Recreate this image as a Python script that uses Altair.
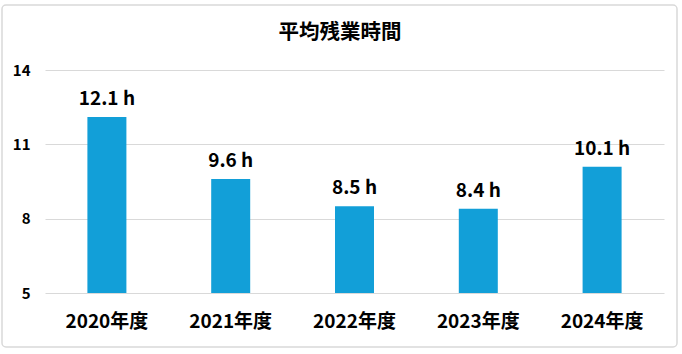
import altair as alt
import pandas as pd

categories = ["2020年度", "2021年度", "2022年度", "2023年度", "2024年度"]
values = [12.1, 9.6, 8.5, 8.4, 10.1]
labels = ["12.1 h", "9.6 h", "8.5 h", "8.4 h", "10.1 h"]
y_ticks = [5, 8, 11, 14]
title_text = "平均残業時間"

df = pd.DataFrame({"year": categories, "value": values, "label": labels})

FONT = "Noto Sans CJK JP"

x_enc = alt.X("year:N", sort=categories, title=None,
              scale=alt.Scale(paddingInner=0.0, paddingOuter=0.0),
              axis=alt.Axis(labelAngle=0, labelFontSize=19, labelFontWeight="bold",
                            labelColor="#000000", labelFont=FONT, labelPadding=19,
                            domain=False, ticks=False))
y_enc = alt.Y("value:Q", title=None,
              scale=alt.Scale(domain=[5, 14], nice=False, zero=False),
              axis=alt.Axis(values=y_ticks, labelFontSize=15, labelFontWeight="bold",
                            labelColor="#000000", labelFont=FONT, labelPadding=15,
                            domain=False, ticks=False, gridColor="#d9d9d9",
                            gridWidth=1))

base = alt.Chart(df)
bars = base.mark_bar(color="#129FD8", size=39, clip=True).encode(
    x=x_enc, y=y_enc, y2=alt.datum(5))
text = base.mark_text(baseline="bottom", dy=-8, fontSize=19, fontWeight="bold",
                      font=FONT, color="#000000").encode(
    x=alt.X("year:N", sort=categories), y=alt.Y("value:Q"), text="label:N")

deco = alt.Chart(pd.DataFrame({"t": [title_text]}))
frame = deco.mark_rect(
    fill=None, stroke="#d9d9d9", strokeWidth=1.5, cornerRadius=4).encode(
    x=alt.value(-43), x2=alt.value(632), y=alt.value(-65), y2=alt.value(277))
title = deco.mark_text(fontSize=20.5, fontWeight="bold", font=FONT, color="#000000",
                       baseline="middle", align="center").encode(
    x=alt.value(295), y=alt.value(-37), text="t:N")

chart = alt.layer(frame, bars, text, title).properties(
    width=619, height=223,
    padding={"left": 45, "top": 70, "right": 18, "bottom": 61},
    autosize=alt.AutoSizeParams(type="none"),
    background="white",
).configure_view(stroke=None)

chart.save("out.html", embed_options={"renderer": "svg", "actions": False})
